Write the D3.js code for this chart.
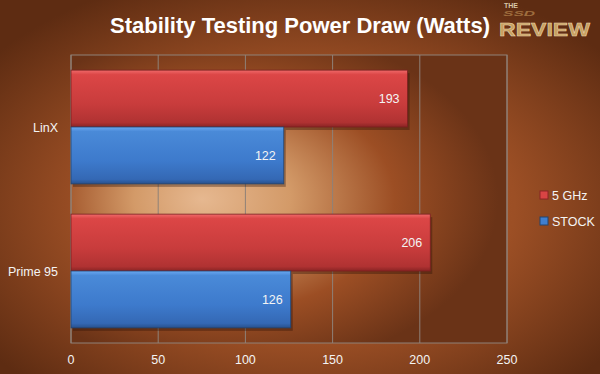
<!DOCTYPE html>
<html lang="en">
<head>
<meta charset="utf-8">
<script src="https://d3js.org/d3.v7.min.js"></script>
<style>
  body { margin: 0; background: #8a4420; }
  svg { display: block; }
  text { font-family: "Liberation Sans", Arial, sans-serif; }
</style>
</head>
<body>
<script>
// chart data
const categories = ["LinX", "Prime 95"];
const seriesNames = ["5 GHz", "STOCK"];
const ghzValues = [193, 206];
const stockValues = [122, 126];
const xTicks = [0, 50, 100, 150, 200, 250];

const width = 600, height = 374;
const margin = {top: 55, right: 93, bottom: 31, left: 71};

const svg = d3.select("body").append("svg")
    .attr("width", width).attr("height", height);

const defs = svg.append("defs");

// page background
const bg = defs.append("radialGradient").attr("id", "bg")
    .attr("cx", "50%").attr("cy", "55%").attr("r", "65%");
bg.append("stop").attr("offset", "0%").attr("stop-color", "#b0602f");
bg.append("stop").attr("offset", "55%").attr("stop-color", "#9c4f25");
bg.append("stop").attr("offset", "100%").attr("stop-color", "#5e2c12");

// plot area background
const pg = defs.append("radialGradient").attr("id", "plotbg")
    .attr("cx", "38%").attr("cy", "50%").attr("r", "60%")
    .attr("fx", "30%").attr("fy", "50%");
pg.append("stop").attr("offset", "0%").attr("stop-color", "#e6b890");
pg.append("stop").attr("offset", "30%").attr("stop-color", "#d39a68");
pg.append("stop").attr("offset", "65%").attr("stop-color", "#9c4e24");
pg.append("stop").attr("offset", "100%").attr("stop-color", "#6a3317");

const redG = defs.append("linearGradient").attr("id", "red")
    .attr("x1", 0).attr("x2", 0).attr("y1", 0).attr("y2", 1);
redG.append("stop").attr("offset", "0%").attr("stop-color", "#f06a6a");
redG.append("stop").attr("offset", "8%").attr("stop-color", "#dc4646");
redG.append("stop").attr("offset", "60%").attr("stop-color", "#c83c3c");
redG.append("stop").attr("offset", "92%").attr("stop-color", "#b03232");
redG.append("stop").attr("offset", "100%").attr("stop-color", "#8a2424");

const blueG = defs.append("linearGradient").attr("id", "blue")
    .attr("x1", 0).attr("x2", 0).attr("y1", 0).attr("y2", 1);
blueG.append("stop").attr("offset", "0%").attr("stop-color", "#6aa8f0");
blueG.append("stop").attr("offset", "8%").attr("stop-color", "#4a8ad8");
blueG.append("stop").attr("offset", "60%").attr("stop-color", "#3d7acc");
blueG.append("stop").attr("offset", "92%").attr("stop-color", "#3468b4");
blueG.append("stop").attr("offset", "100%").attr("stop-color", "#28508c");

svg.append("rect").attr("width", width).attr("height", height).attr("fill", "url(#bg)");

const pw = width - margin.left - margin.right;
const ph = height - margin.top - margin.bottom;

const x = d3.scaleLinear().domain([0, 250]).range([margin.left, margin.left + pw]);
const y0 = d3.scaleBand().domain(categories)
    .range([margin.top, margin.top + ph]).paddingInner(0.21).paddingOuter(0.105);
const y1 = d3.scaleBand().domain(seriesNames).range([0, y0.bandwidth()]);

svg.append("rect")
    .attr("x", margin.left).attr("y", margin.top)
    .attr("width", pw).attr("height", ph)
    .attr("fill", "url(#plotbg)");

// gridlines
svg.append("g").selectAll("line").data(xTicks).join("line")
    .attr("x1", d => x(d)).attr("x2", d => x(d))
    .attr("y1", margin.top).attr("y2", margin.top + ph)
    .attr("stroke", "#8f8178").attr("stroke-width", 1);
svg.append("rect")
    .attr("x", margin.left).attr("y", margin.top)
    .attr("width", pw).attr("height", ph)
    .attr("fill", "none").attr("stroke", "#8f8178");

// bars
const rows = categories.map((c, i) => [
  {cat: c, s: "5 GHz", v: ghzValues[i], fill: "url(#red)", edge: "#7a2020"},
  {cat: c, s: "STOCK", v: stockValues[i], fill: "url(#blue)", edge: "#23446f"}
]).flat();

const bars = svg.append("g").selectAll("g").data(rows).join("g");
bars.append("rect")
    .attr("x", x(0) + 2).attr("y", d => y0(d.cat) + y1(d.s) + 3)
    .attr("width", d => x(d.v) - x(0)).attr("height", y1.bandwidth())
    .attr("fill", "rgba(40,15,5,0.35)");
bars.append("rect")
    .attr("x", x(0)).attr("y", d => y0(d.cat) + y1(d.s))
    .attr("width", d => x(d.v) - x(0)).attr("height", y1.bandwidth())
    .attr("fill", d => d.fill).attr("stroke", d => d.edge).attr("stroke-width", 0.8);
bars.append("text")
    .attr("x", d => x(d.v) - 8)
    .attr("y", d => y0(d.cat) + y1(d.s) + y1.bandwidth() / 2 + 4.5)
    .attr("text-anchor", "end").attr("fill", "#f4f4f4")
    .attr("font-size", 12.5)
    .text(d => d.v);

// category labels
svg.append("g").selectAll("text").data(categories).join("text")
    .attr("x", margin.left - 13)
    .attr("y", d => y0(d) + y0.bandwidth() / 2 + 4.5)
    .attr("text-anchor", "end").attr("fill", "#f4f4f4").attr("font-size", 12.5)
    .text(d => d);

// x axis labels
svg.append("g").selectAll("text").data(xTicks).join("text")
    .attr("x", d => x(d)).attr("y", 364)
    .attr("text-anchor", "middle").attr("fill", "#f4f4f4").attr("font-size", 12.5)
    .text(d => d);

// legend
const legColors = [["#d84444", "#8a2424"], ["#3f7fd0", "#23446f"]];
const leg = svg.append("g").selectAll("g").data(seriesNames).join("g")
    .attr("transform", (d, i) => `translate(540,${191 + i * 26})`);
leg.append("rect").attr("width", 8).attr("height", 8)
    .attr("fill", (d, i) => legColors[i][0]).attr("stroke", (d, i) => legColors[i][1]);
leg.append("text").attr("x", 12).attr("y", 8.5)
    .attr("fill", "#f4f4f4").attr("font-size", 12.5).text(d => d);

// title
svg.append("text")
    .attr("x", 110).attr("y", 33)
    .attr("textLength", 380).attr("lengthAdjust", "spacingAndGlyphs")
    .attr("fill", "#ffffff").attr("font-size", 22).attr("font-weight", "bold")
    .text("Stability Testing Power Draw (Watts)");

// logo
const logo = svg.append("g");
logo.append("text").attr("x", 504).attr("y", 8).attr("fill", "#d8c8a8")
    .attr("font-size", 7).attr("font-weight", "bold").text("THE");
logo.append("text").attr("x", 503).attr("y", 16)
    .attr("textLength", 32).attr("lengthAdjust", "spacingAndGlyphs")
    .attr("fill", "#b88850").attr("font-size", 8).attr("font-weight", "bold")
    .attr("font-style", "italic").attr("opacity", 0.7).text("SSD");
logo.append("text").attr("x", 499).attr("y", 36)
    .attr("textLength", 91).attr("lengthAdjust", "spacingAndGlyphs")
    .attr("fill", "#c8a060").attr("stroke", "#e8d8b0").attr("stroke-width", 0.5)
    .attr("font-size", 19).attr("font-weight", "bold").text("REVIEW");
</script>
</body>
</html>
